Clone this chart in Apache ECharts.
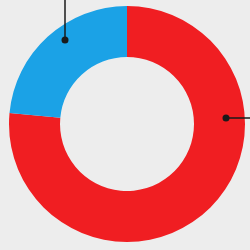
<!DOCTYPE html>
<html>
<head>
<meta charset="utf-8">
<script src="https://cdn.jsdelivr.net/npm/echarts@6/dist/echarts.min.js"></script>
<style>
  html, body { margin: 0; padding: 0; background: #ededed; }
  #chart { width: 250px; height: 250px; }
</style>
</head>
<body>
<div id="chart"></div>
<script>
  // slice names and shares
  const sliceNames = ['A', 'B']
  const sliceValues = [76.5, 23.5]
  const sliceColors = ['#f01e22', '#1ba2e6']

  const chart = echarts.init(document.getElementById('chart'))

  // leader lines with a dot, labels sit outside the picture
  function leader (x1, y1, x2, y2) {
    return [
      { type: 'line', shape: { x1: x1, y1: y1, x2: x2, y2: y2 }, style: { stroke: '#1a1a1a', lineWidth: 1.5 }, z: 10 },
      { type: 'circle', shape: { cx: x1, cy: y1, r: 3.5 }, style: { fill: '#1a1a1a' }, z: 10 }
    ]
  }

  chart.setOption({
    backgroundColor: '#ededed',
    animation: false,
    series: [
      {
        type: 'pie',
        center: [127, 124],
        radius: [67, 118],
        startAngle: 90,
        clockwise: true,
        label: { show: false },
        labelLine: { show: false },
        itemStyle: { borderWidth: 0 },
        data: sliceNames.map(function (n, i) {
          return { name: n, value: sliceValues[i], itemStyle: { color: sliceColors[i] } }
        })
      }
    ],
    graphic: leader(65, 40, 65, -2).concat(leader(226, 118, 252, 118))
  })
</script>
</body>
</html>
